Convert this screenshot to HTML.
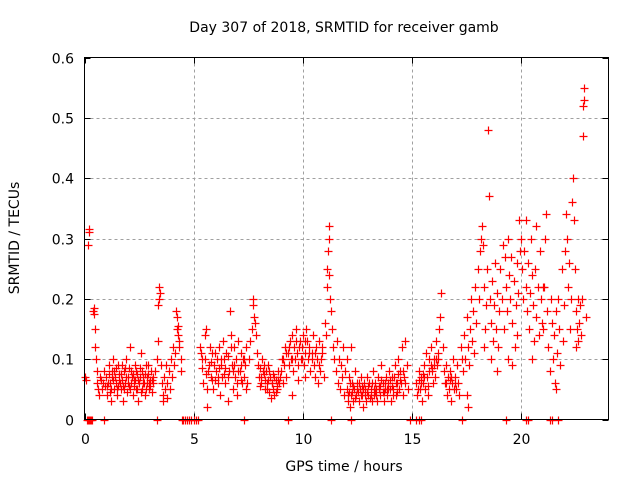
<!DOCTYPE html>
<html><head><meta charset="utf-8"><style>
html,body{margin:0;padding:0;background:#fff}
svg{display:block;font-family:"DejaVu Sans","Liberation Sans",sans-serif}
.bd{position:absolute;background:#000}
</style></head><body>
<div style="position:relative;width:640px;height:480px">
<svg id="chart" width="640" height="480" viewBox="0 0 640 480" xmlns="http://www.w3.org/2000/svg">
<rect width="640" height="480" fill="#fff"/>
<text x="344" y="32" font-size="14" text-anchor="middle" fill="#000">Day 307 of 2018, SRMTID for receiver gamb</text>
<text x="344" y="471" font-size="14" text-anchor="middle" fill="#000">GPS time / hours</text>
<text x="0" y="0" font-size="14" text-anchor="middle" fill="#000" transform="translate(19,238) rotate(-90)">SRMTID / TECUs</text>
<g id="grid"></g>
<g id="ticks"></g>
<g id="pts"></g>
<rect x="84" y="57" width="525" height="1" fill="#000"/>
<rect x="608" y="57" width="1" height="363" fill="#000"/>
<rect x="84" y="419" width="525" height="1" fill="#000"/>
<rect x="84" y="57" width="1" height="363" fill="#000"/>
</svg>
<div class="bd" style="left:84px;top:57px;width:525px;height:1px"></div>
<div class="bd" style="left:608px;top:57px;width:1px;height:363px"></div>
</div>
<script>
const xTicks = [0,5,10,15,20];
const yTicks = [0,0.1,0.2,0.3,0.4,0.5,0.6];
const yTickLabels = ["0","0.1","0.2","0.3","0.4","0.5","0.6"];
const hours = [0.02,0.05,0.18,0.2,0.22,0.4,0.42,0.45,0.47,0.5,0.52,0.55,0.58,0.6,0.65,0.7,0.75,0.8,0.85,0.9,0.95,
1.0,1.05,1.1,1.15,1.2,1.25,1.3,1.35,1.4,1.45,1.5,1.55,1.6,1.65,1.7,1.75,1.8,1.85,1.9,1.95,2.0,2.05,2.1,2.15,2.2,2.25,2.3,2.35,2.4,2.45,2.5,2.55,2.6,2.65,2.7,2.75,2.8,2.85,2.9,2.95,3.0,3.05,3.1,3.15,
1.02,1.12,1.22,1.32,1.42,1.52,1.62,1.72,1.82,1.92,2.02,2.12,2.22,2.32,2.42,2.52,2.62,2.72,2.82,2.92,3.02,3.12,
3.25,3.3,3.35,3.38,3.4,3.42,3.45,3.5,3.55,3.6,3.65,3.7,3.75,3.8,3.85,3.9,3.95,4.0,4.05,4.1,4.15,4.2,4.22,4.25,4.28,4.3,4.33,4.35,4.4,4.42,3.58,3.78,
5.3,5.35,5.4,5.45,5.5,5.55,5.6,5.62,5.7,5.75,5.8,5.85,5.9,5.95,6.0,6.05,6.1,6.15,6.2,6.25,6.3,6.35,6.4,6.45,6.5,6.55,6.6,6.65,6.7,6.75,6.8,6.85,6.9,6.95,7.0,7.05,7.1,7.15,7.2,7.25,7.3,7.35,7.4,7.45,5.38,5.58,5.78,5.98,6.18,6.38,6.58,6.78,6.98,7.18,7.38,
7.55,7.6,7.65,7.7,7.72,7.75,7.8,7.85,7.9,7.95,8.0,8.05,8.1,8.15,8.2,8.25,8.3,8.35,8.4,8.45,8.5,8.55,8.6,8.65,8.7,8.75,8.8,8.85,8.9,8.95,8.02,8.22,8.42,8.62,8.82,
9.0,9.05,9.1,9.15,9.2,9.25,9.3,9.35,9.4,9.45,9.5,9.55,9.6,9.65,9.7,9.75,9.8,9.85,9.9,9.95,10.0,10.05,10.1,10.15,10.2,10.25,10.3,10.35,10.4,10.45,10.5,10.55,10.6,10.65,10.7,10.75,10.8,10.85,10.9,10.95,9.5,10.1,9.8,
11.0,11.05,11.1,11.12,11.15,11.18,11.2,11.22,11.25,11.3,11.35,11.4,11.45,11.5,11.55,11.6,11.65,11.7,11.75,11.8,11.85,11.9,11.95,
12.0,12.05,12.1,12.15,12.2,12.25,12.3,12.35,12.4,12.45,12.5,12.55,12.6,12.65,12.7,12.75,12.8,12.85,12.9,12.95,13.0,13.05,13.1,13.15,13.2,13.25,13.3,13.35,13.4,13.45,13.5,13.55,13.6,13.65,13.7,13.75,13.8,13.85,13.9,13.95,14.0,14.05,14.1,14.15,14.2,14.25,14.3,14.35,14.4,14.45,14.5,14.55,14.6,14.65,14.7,14.75,14.8,12.12,12.32,12.52,12.72,12.92,13.12,13.32,13.52,13.72,13.92,14.12,14.32,12.0,12.2,
15.2,15.25,15.3,15.35,15.4,15.45,15.5,15.55,15.6,15.65,15.7,15.75,15.8,15.85,15.9,15.95,16.0,16.05,16.1,16.15,16.2,16.25,16.3,16.35,16.4,16.45,16.5,16.55,16.6,16.65,16.7,16.75,16.8,16.85,16.9,16.95,17.0,17.05,17.1,17.15,15.32,15.52,15.72,15.92,16.12,16.72,16.92,
17.25,17.3,17.35,17.4,17.45,17.5,17.55,17.6,17.65,17.7,17.75,17.8,17.85,17.9,17.95,17.5,17.55,
18.0,18.05,18.1,18.15,18.2,18.25,18.3,18.35,18.4,18.45,18.5,18.52,18.55,18.6,18.65,18.7,18.75,18.8,18.85,18.9,18.95,18.3,18.6,18.9,19.0,
19.05,19.1,19.15,19.2,19.25,19.3,19.35,19.4,19.45,19.5,19.55,19.6,19.65,19.7,19.75,19.8,19.85,19.9,19.95,19.4,19.6,19.8,
20.0,20.05,20.1,20.15,20.2,20.25,20.3,20.35,20.4,20.45,20.5,20.55,20.6,20.65,20.7,20.75,20.8,20.85,20.9,20.95,20.2,20.7,20.5,
21.0,21.05,21.1,21.15,21.2,21.25,21.3,21.35,21.4,21.45,21.5,21.55,21.6,21.65,21.7,21.75,21.8,21.85,21.9,21.95,21.0,21.6,
22.0,22.05,22.1,22.15,22.2,22.25,22.3,22.35,22.38,22.4,22.45,22.5,22.55,22.6,22.65,22.7,22.75,22.8,22.82,22.85,22.87,22.9,22.95,22.5,22.6];
const srmtid = [.07,.065,.29,.31,.315,.18,.185,.175,.15,.12,.1,.08,.06,.05,.04,.07,.065,.05,.06,.08,.055,
.07,.04,.09,.06,.03,.08,.1,.05,.07,.06,.04,.09,.075,.05,.065,.03,.08,.06,.1,.045,.07,.055,.12,.08,.04,.065,.09,.05,.075,.03,.06,.085,.11,.05,.07,.04,.09,.06,.075,.05,.065,.08,.045,.07,
.055,.075,.05,.065,.085,.055,.06,.09,.05,.07,.085,.06,.075,.065,.05,.07,.08,.06,.05,.09,.055,.06,
.08,.1,.13,.19,.2,.22,.21,.09,.06,.04,.07,.05,.09,.06,.08,.05,.1,.07,.12,.09,.11,.18,.17,.15,.155,.14,.13,.12,.1,.08,.03,.035,
.12,.11,.1,.06,.14,.15,.02,.05,.09,.12,.07,.11,.05,.09,.08,.1,.06,.12,.04,.09,.07,.13,.1,.06,.11,.03,.08,.18,.14,.09,.05,.12,.07,.1,.04,.13,.08,.11,.06,.1,.07,.09,.12,.06,.085,.075,.095,.065,.085,.075,.105,.08,.06,.09,.05,
.1,.13,.15,.2,.19,.17,.16,.14,.11,.09,.07,.085,.06,.1,.075,.05,.08,.06,.09,.045,.07,.035,.06,.05,.04,.065,.05,.08,.06,.07,.055,.09,.065,.075,.055,
.08,.1,.06,.09,.12,.07,.11,.09,.13,.1,.14,.08,.12,.1,.15,.11,.09,.13,.1,.12,.14,.09,.11,.15,.13,.1,.12,.08,.11,.14,.09,.07,.12,.1,.06,.13,.08,.1,.12,.07,.04,.07,.065,
.16,.14,.22,.25,.28,.3,.32,.24,.2,.18,.15,.12,.1,.08,.13,.06,.1,.05,.09,.07,.12,.04,.08,
.05,.03,.07,.02,.04,.06,.03,.05,.08,.04,.06,.03,.05,.07,.04,.02,.06,.05,.03,.07,.04,.06,.05,.03,.08,.04,.06,.05,.03,.07,.05,.04,.09,.06,.03,.05,.07,.04,.06,.08,.05,.03,.07,.05,.09,.04,.06,.1,.05,.08,.06,.12,.04,.07,.13,.09,.05,.045,.055,.045,.055,.045,.04,.045,.055,.045,.05,.04,.045,.1,.12,
.06,.04,.08,.05,.07,.03,.06,.09,.05,.11,.07,.04,.1,.12,.08,.06,.1,.07,.13,.09,.11,.15,.17,.21,.12,.08,.06,.09,.04,.07,.05,.08,.03,.06,.1,.07,.05,.09,.06,.04,.065,.075,.055,.085,.1,.065,.05,
.12,.1,.08,.14,.1,.17,.12,.09,.15,.2,.13,.18,.11,.22,.16,.04,.02,
.25,.2,.28,.3,.32,.29,.22,.15,.19,.25,.48,.37,.2,.16,.23,.13,.19,.26,.15,.21,.12,.12,.1,.08,.18,
.25,.2,.29,.15,.27,.22,.18,.3,.24,.2,.27,.16,.23,.12,.19,.26,.21,.33,.28,.1,.09,.14,
.3,.25,.2,.28,.22,.18,.26,.15,.21,.3,.24,.19,.13,.25,.17,.22,.14,.28,.2,.16,.33,.32,.1,
.15,.22,.3,.34,.18,.12,.08,.2,.16,.1,.14,.06,.18,.11,.2,.15,.09,.25,.13,.19,.22,.05,
.28,.34,.3,.22,.26,.15,.2,.36,.4,.33,.25,.18,.15,.2,.16,.19,.14,.2,.47,.52,.53,.55,.17,.12,.13];
const hoursExtra = [1.07,1.17,1.27,1.37,1.47,1.57,1.67,1.77,1.87,1.97,2.07,2.17,2.27,2.37,2.47,2.57,2.67,2.77,2.87,2.97,3.07,
5.52,5.67,5.82,5.97,6.12,6.27,6.42,6.57,6.72,6.87,7.02,7.17,7.32,
8.07,8.17,8.27,8.37,8.47,8.57,8.67,8.77,8.87,
9.07,9.22,9.37,9.52,9.67,9.82,9.97,10.12,10.27,10.42,10.57,10.72,10.87,
12.07,12.17,12.27,12.37,12.47,12.57,12.67,12.77,12.87,12.97,13.07,13.17,13.27,13.37,13.47,13.57,13.67,13.77,13.87,13.97,14.07,14.17,14.27,14.37,14.47,14.57,14.67,
15.27,15.42,15.57,15.77,15.87,16.02,16.17,16.57,16.77,16.97];
const srmtidExtra = [.06,.045,.07,.08,.05,.065,.075,.055,.085,.06,.05,.07,.055,.08,.065,.045,.06,.075,.07,.06,.065,
.1,.08,.065,.11,.07,.1,.085,.07,.12,.09,.08,.065,.1,
.07,.08,.065,.05,.08,.06,.07,.045,.065,
.1,.11,.12,.1,.13,.12,.1,.13,.11,.1,.11,.09,.11,
.04,.06,.045,.035,.05,.06,.04,.05,.04,.055,.035,.06,.05,.04,.055,.065,.045,.06,.05,.065,.055,.07,.06,.075,.065,.08,.06,
.05,.06,.07,.08,.09,.09,.1,.06,.07,.06];
const zeroHours = [0.1,0.15,0.2,0.25,0.3,0.35,0.9,3.3,4.45,4.5,4.6,4.7,4.8,4.9,5.0,5.1,5.2,7.3,9.3,11.3,12.2,14.9,15.2,15.3,15.4,17.3,19.3,20.2,20.3,21.3,21.4,21.7];

const X0=84.5, X1=608.5, Y0=419.5, Y1=57.5;
function xs(h){return X0+(h/24)*(X1-X0);}
function ys(v){return Y0-(v/0.6)*(Y0-Y1);}
const NS="http://www.w3.org/2000/svg";
const grid=document.getElementById('grid'), ticks=document.getElementById('ticks'), pts=document.getElementById('pts');
function mk(tag,attrs,parent){const e=document.createElementNS(NS,tag);for(const k in attrs)e.setAttribute(k,attrs[k]);parent.appendChild(e);return e;}
xTicks.forEach(function(t){
  const x=Math.round(xs(t))+0.5;
  if(t>0){const g=mk('line',{x1:x,y1:Y1,x2:x,y2:Y0,stroke:'#a0a0a0','stroke-dasharray':'3,3'},grid);
  
  }
  const tk=mk('path',{d:'M'+x+' '+Y0+'v-6M'+x+' '+Y1+'v6',stroke:'#000'},ticks);
  
  
  const tl=mk('text',{x:x,y:444,'font-size':14,'text-anchor':'middle'},ticks);
  tl.textContent=String(t);
  
  
});
yTicks.forEach(function(t,i){
  const y=Math.round(ys(t))+0.5;
  if(t>0&&t<0.6){const g=mk('line',{x1:X0,y1:y,x2:X1,y2:y,stroke:'#a0a0a0','stroke-dasharray':'3,3'},grid);
  
  }
  const tk=mk('path',{d:'M'+X0+' '+y+'h6M'+X1+' '+y+'h-6',stroke:'#000'},ticks);
  
  
  const tl=mk('text',{x:74,y:y+5,'font-size':14,'text-anchor':'end'},ticks);
  tl.textContent=yTickLabels[i];
  
  
});
function plus(h,v,name){
  const x=Math.round(xs(h))+0.5, y=Math.round(ys(v))+0.5;
  const p=mk('path',{d:'M'+(x-4)+' '+y+'h8M'+x+' '+(y-4)+'v8',stroke:'#ff0000','stroke-width':'1.2',fill:'none'},pts);
  
  
}
hours.forEach(function(h,i){plus(h,srmtid[i],'data-point');});
hoursExtra.forEach(function(h,i){plus(h,srmtidExtra[i],'data-point');});
zeroHours.forEach(function(h){plus(h,0,'zero-point');});
</script>
</body></html>
